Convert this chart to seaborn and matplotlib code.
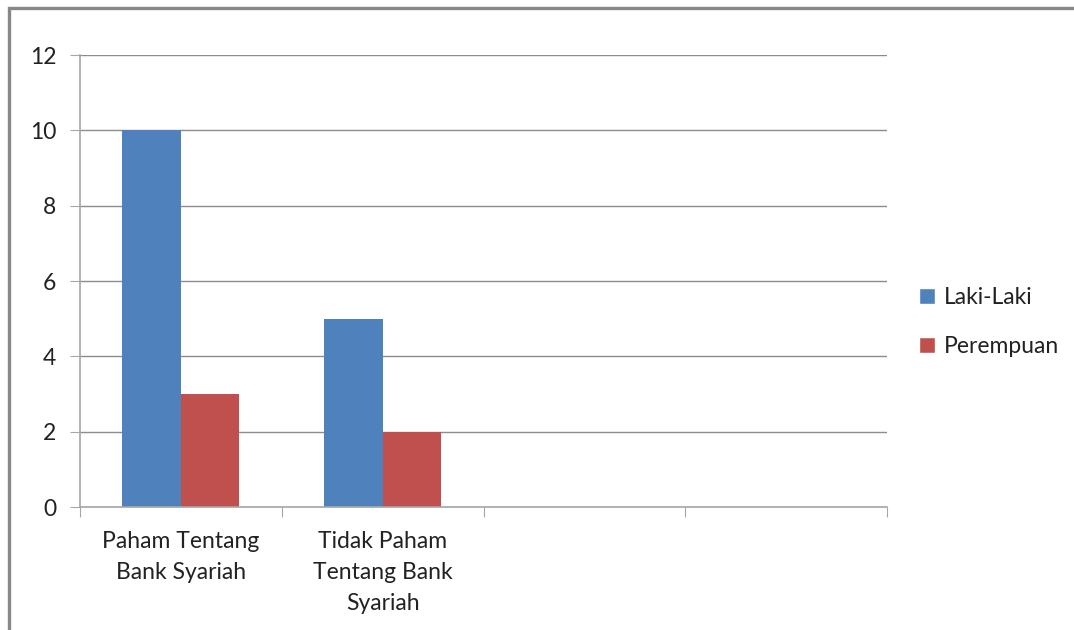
import matplotlib
matplotlib.use('Agg')
import matplotlib.pyplot as plt
import seaborn as sns
import pandas as pd
import numpy as np
from matplotlib.patches import Rectangle, Patch

# data
categories = ['Paham Tentang\nBank Syariah', 'Tidak Paham\nTentang Bank\nSyariah', ' ', '  ']
laki = [10, 5, np.nan, np.nan]
perempuan = [3, 2, np.nan, np.nan]
series = ['Laki-Laki', 'Perempuan']
colors = ['#4F81BD', '#C0504D']

df = pd.DataFrame({
    'Kategori': categories * 2,
    'Jenis': [series[0]] * 4 + [series[1]] * 4,
    'Jumlah': laki + perempuan,
})

sns.set_style('white')
plt.rcParams['font.family'] = ['Lato', 'DejaVu Sans']

fig = plt.figure(figsize=(10.74, 6.3), dpi=100)
ax = fig.add_axes([80 / 1074, 1 - 507 / 630, 807 / 1074, 452 / 630])

sns.barplot(data=df, x='Kategori', y='Jumlah', hue='Jenis', order=categories,
            hue_order=series, palette=colors, width=0.58, saturation=1,
            linewidth=0, ax=ax, legend=False)

# outer chart frame (left and top edge visible)
fig.patches.append(Rectangle((9 / 1074, -0.1), 1.2, 1.1 - 8 / 630, transform=fig.transFigure,
                             fill=False, edgecolor='#888888', linewidth=2.4))

grid_c = '#8c8c8c'
fs = 16.5
ax.set_ylim(0, 12)
ax.set_yticks(range(0, 13, 2))
ax.set_xlim(-0.5, 3.5)
ax.yaxis.grid(True, color=grid_c, linewidth=1)
ax.set_axisbelow(True)
for s in ['top', 'right']:
    ax.spines[s].set_visible(False)
for s in ['left', 'bottom']:
    ax.spines[s].set_color('#a6a6a6')
    ax.spines[s].set_linewidth(1.2)

# category boundaries as major ticks, labels on minor ticks
ax.set_xticks([-0.5, 0.5, 1.5, 2.5, 3.5])
ax.set_xticklabels([])
ax.set_xticks(range(4), minor=True)
ax.set_xticklabels(categories, minor=True, fontsize=fs, color='#222222', linespacing=1.6)
ax.tick_params(axis='x', which='major', length=7, color='#a6a6a6', direction='out', bottom=True)
ax.tick_params(axis='x', which='minor', length=0, pad=17)
ax.tick_params(axis='y', length=7, color='#a6a6a6', direction='out', left=True,
               labelsize=fs, labelcolor='#222222', pad=10)
for t in ax.get_xticklabels(minor=True):
    t.set_verticalalignment('top')
ax.set_xlabel('')
ax.set_ylabel('')

handles = [Patch(facecolor=c, label=l) for c, l in zip(colors, series)]
fig.legend(handles=handles, loc='center left', bbox_to_anchor=(898 / 1074, 1 - 322 / 630),
           frameon=False, fontsize=fs, handlelength=0.7, handleheight=0.7,
           handletextpad=0.4, labelspacing=1.2, labelcolor='#222222')

fig.savefig('out.png', dpi=100)
